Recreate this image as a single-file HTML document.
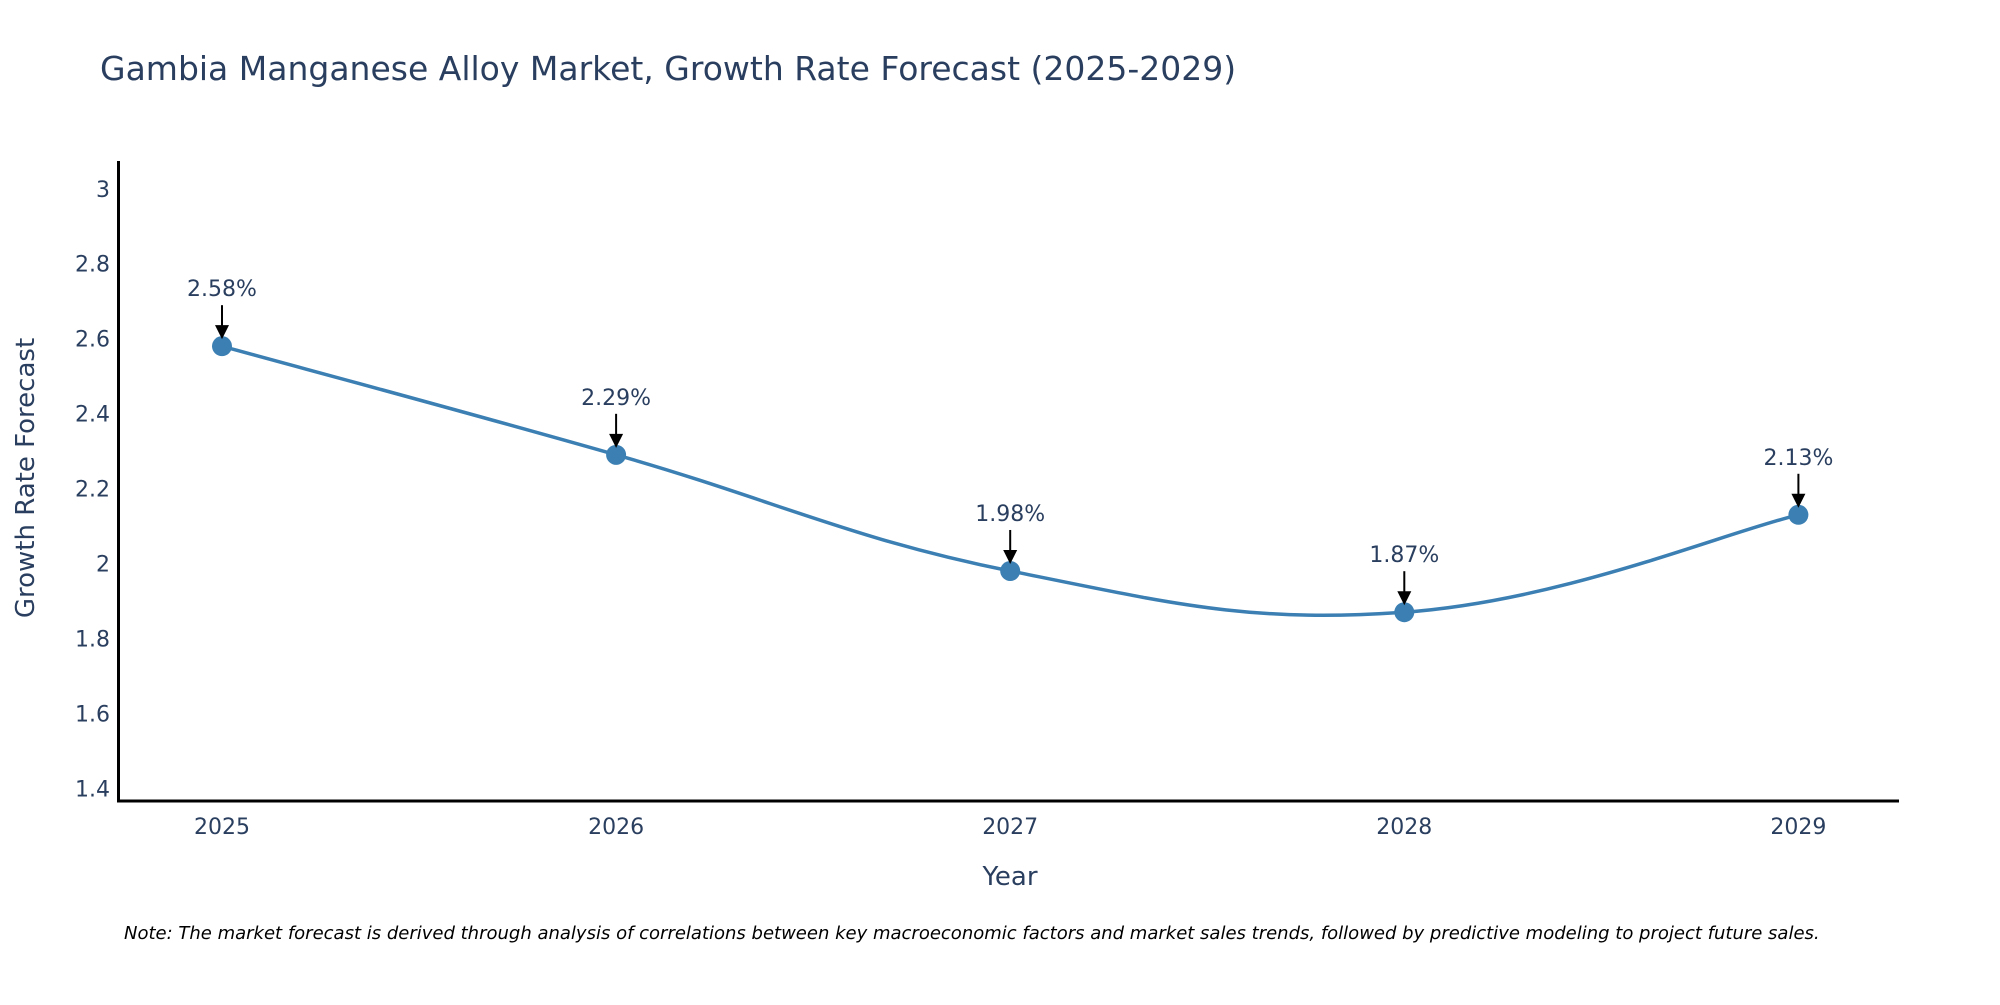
<!DOCTYPE html>
<html><head><meta charset="utf-8"><style>
body{margin:0;background:#fff;}
svg text{font-family:"DejaVu Sans","Liberation Sans",sans-serif;fill:#2a3f5f;}
</style></head><body>
<svg id="chart" width="2000" height="1000" viewBox="0 0 2000 1000" xmlns="http://www.w3.org/2000/svg">
<rect width="2000" height="1000" fill="#fff"/>
<text x="100" y="80" font-size="33">Gambia Manganese Alloy Market, Growth Rate Forecast (2025-2029)</text>
<g id="yticks"></g>
<g id="xticks"></g>
<line x1="118.5" y1="161" x2="118.5" y2="801" stroke="#000" stroke-width="3"/>
<line x1="117" y1="801" x2="1899" y2="801" stroke="#000" stroke-width="3"/>
<path id="line" fill="none" stroke="#3b7fb3" stroke-width="3.5"/>
<g id="points"></g>
<text x="1010" y="885" font-size="26" text-anchor="middle">Year</text>
<text transform="translate(34,478) rotate(-90)" font-size="26" text-anchor="middle">Growth Rate Forecast</text>
<text x="124" y="939" font-size="18" font-style="italic" style="fill:#000">Note: The market forecast is derived through analysis of correlations between key macroeconomic factors and market sales trends, followed by predictive modeling to project future sales.</text>
</svg>
<script>
const categories=["2025","2026","2027","2028","2029"];
const values=[2.58,2.29,1.98,1.87,2.13];
const yTicks=[1.4,1.6,1.8,2,2.2,2.4,2.6,2.8,3];
const NS="http://www.w3.org/2000/svg";
const X0=222,XS=394.1;
function xScale(i){return X0+i*XS;}
function yScale(v){return 788.3-(v-1.4)*(788.3-188.8)/1.6;}
const yg=document.getElementById('yticks'),xg=document.getElementById('xticks'),pg=document.getElementById('points');
function mk(tag,attrs,parent){const e=document.createElementNS(NS,tag);for(const k in attrs)e.setAttribute(k,attrs[k]);parent.appendChild(e);return e;}
yTicks.forEach(t=>{
  const e=mk('text',{x:110,y:yScale(t)+8,'font-size':22,'text-anchor':'end'},yg);
  
  
  e.textContent=String(t);
});
categories.forEach((c,i)=>{
  const e=mk('text',{x:xScale(i),y:834,'font-size':22,'text-anchor':'middle'},xg);
  
  
  e.textContent=c;
});
const P=values.map((v,i)=>[xScale(i),yScale(v)]);
let d="M"+P[0][0]+","+P[0][1];
const s=0.2;
for(let i=0;i<P.length-1;i++){
  const p0=P[i-1]||P[i],p1=P[i],p2=P[i+1],p3=P[i+2]||P[i+1];
  const c1=[p1[0]+(p2[0]-p0[0])*s,p1[1]+(p2[1]-p0[1])*s];
  const c2=[p2[0]-(p3[0]-p1[0])*s,p2[1]-(p3[1]-p1[1])*s];
  d+=" C"+c1+" "+c2+" "+p2;
}
document.getElementById('line').setAttribute('d',d);
P.forEach((p,i)=>{
  const c=mk('circle',{cx:p[0],cy:p[1],r:10,fill:'#3b7fb3'},pg);
  
  
  const l=mk('line',{x1:p[0],y1:p[1]-41,x2:p[0],y2:p[1]-18,stroke:'#000','stroke-width':2},pg);
  
  
  const a=mk('polygon',{points:(p[0]-7)+","+(p[1]-21)+" "+(p[0]+7)+","+(p[1]-21)+" "+p[0]+","+(p[1]-7),fill:'#000'},pg);
  
  
  const t=mk('text',{x:p[0],y:p[1]-50,'font-size':22,'text-anchor':'middle'},pg);
  
  
  t.textContent=values[i].toFixed(2)+"%";
});
</script>
</body></html>
